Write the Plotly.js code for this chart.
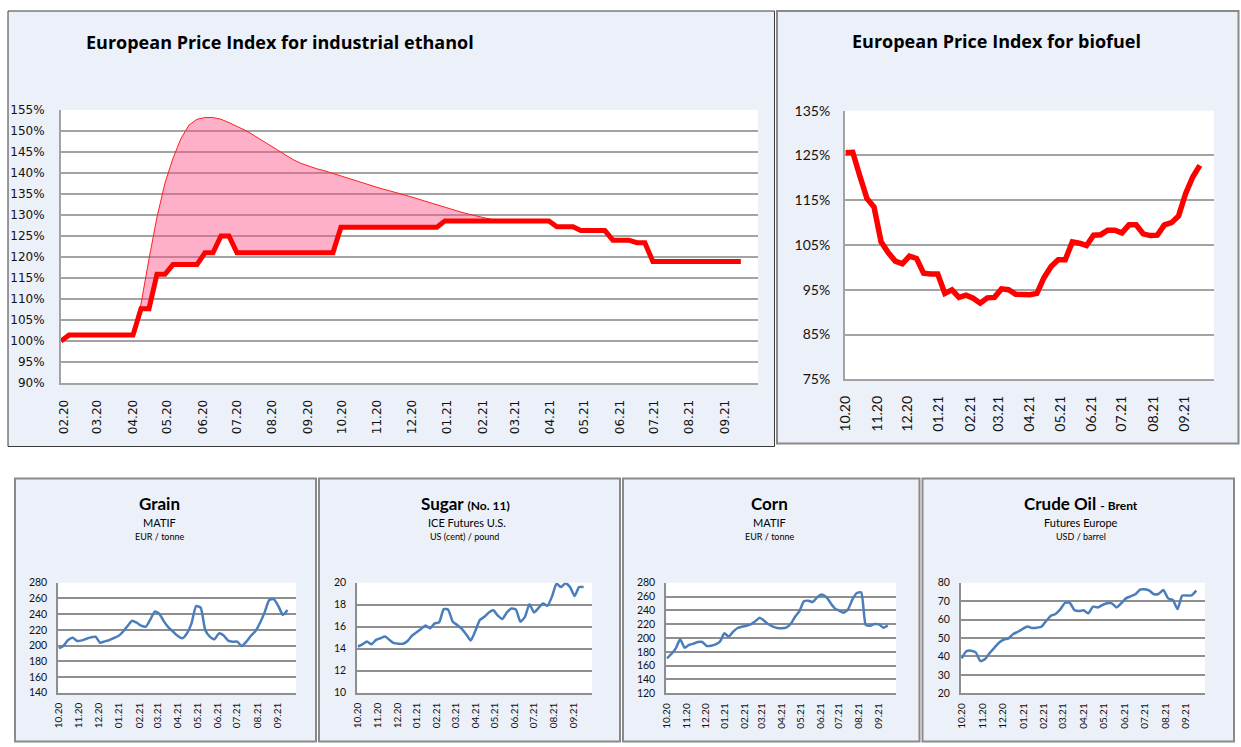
<!DOCTYPE html>
<html><head><meta charset="utf-8">
<script src="https://cdn.plot.ly/plotly-3.0.1.min.js"></script>
<style>html,body{margin:0;padding:0;background:#fff;}#chart{width:1241px;height:747px;}</style>
</head><body><div id="chart"></div>
<script>
// ---------------- DATA ----------------
// Weekly observations. Ethanol series starts end of Jan 2020, others start Oct 2020.
const ethanolStart = '2020-01-29';
const marketStart = '2020-10-01';

// European Price Index for industrial ethanol (%), weekly
const ethanolIndex = [100,
  101.4,101.4,101.4,101.4,101.4,101.4,101.4,101.4,101.4,
  107.7,107.7, 115.9,115.9, 118.2,118.2,118.2,118.2, 121.0,121.0, 125.0,125.0,
  121.0,121.0,121.0,121.0,121.0,121.0,121.0,121.0,121.0,121.0,121.0,121.0,121.0,
  127.1,127.1,127.1,127.1,127.1,127.1,127.1,127.1,127.1,127.1,127.1,127.1,127.1,
  128.6,128.6,128.6,128.6,128.6,128.6,128.6,128.6,128.6,128.6,128.6,128.6,128.6,128.6,
  127.2,127.2,127.2, 126.3,126.3,126.3,126.3, 124.0,124.0,124.0, 123.4,123.4,
  118.9,118.9,118.9,118.9,118.9,118.9,118.9,118.9,118.9,118.9,118.9,118.9];
// Upper envelope (pink band), from week 9 to week 55 of the ethanol series
const ethanolPeakFrom = 9;
const ethanolPeak = [101.4,108.8,119.5,129.5,137.6,143.5,148.2,151.4,152.8,153.2,
  153.2,152.8,152.0,151.1,150.2,149.1,147.9,146.6,145.4,144.2,
  143.2,142.3,141.6,141.0,140.5,139.9,139.3,138.7,138.0,137.4,
  136.8,136.3,135.8,135.3,134.8,134.2,133.6,133.0,132.4,131.8,
  131.2,130.7,130.2,129.7,129.3,128.9,128.6];

// European Price Index for biofuel (%), weekly from 10.20
const biofuelIndex = [125.6,125.7,120.4,115.4,113.5,105.7,103.3,101.4,100.8,102.5,
  102.0,98.7,98.5,98.5,94.2,95.0,93.3,93.8,93.1,92.0,
  93.2,93.3,95.2,95.0,94.0,93.8,93.9,94.2,97.7,100.2,
  101.7,101.7,105.7,105.4,104.9,107.2,107.3,108.3,108.3,107.7,
  109.5,109.5,107.5,107.1,107.2,109.5,110.0,111.5,116.5,120.2,122.8];

// Grain MATIF, EUR / tonne
const grainPrice = [196.4,199.8,207.0,210.0,205.8,206.6,208.7,210.4,211.3,203.6,
  205.3,207.0,209.6,212.1,217.6,224.9,231.6,229.1,225.3,224.0,
  233.3,243.5,240.1,230.4,222.7,217.6,212.1,209.2,215.5,228.2,
  250.3,248.2,219.8,211.3,207.9,215.5,213.0,206.2,204.9,204.9,
  199.4,204.9,212.5,218.5,229.1,242.2,257.9,259.2,250.3,238.9,245.2];

// Sugar No. 11, ICE Futures U.S., US cent / pound
const sugarPrice = [14.2,14.4,14.65,14.4,14.8,14.95,15.1,14.8,14.5,14.45,
  14.45,14.7,15.2,15.5,15.8,16.1,15.85,16.3,16.4,17.6,
  17.55,16.45,16.15,15.8,15.3,14.75,15.6,16.6,16.9,17.3,
  17.5,17.0,16.7,17.3,17.65,17.55,16.45,16.9,18.05,17.3,
  17.7,18.1,17.9,18.75,19.9,19.6,19.95,19.6,18.8,19.6,19.6];

// Corn MATIF, EUR / tonne
const cornPrice = [170.6,176.9,185.1,198.1,186.0,189.9,191.8,194.2,194.2,188.4,
  188.9,190.8,194.7,206.8,201.9,209.2,214.5,216.4,217.8,219.8,
  224.1,229.4,225.1,219.8,216.4,214.5,214.0,214.9,220.2,230.8,
  239.0,253.0,254.0,252.0,258.8,263.1,259.8,251.1,242.9,239.5,
  236.6,241.4,255.9,265.1,266.0,218.8,217.8,220.2,219.8,214.9,217.8];

// Crude Oil Brent, Futures Europe, USD / barrel
const crudePrice = [39.0,42.8,43.1,42.2,37.5,38.6,42.0,44.8,47.6,49.1,
  49.8,52.2,53.4,54.9,56.3,55.4,55.6,56.1,59.2,62.1,
  63.0,65.5,69.0,69.2,65.2,64.6,65.0,63.4,67.0,66.6,
  67.9,68.8,68.8,66.6,68.8,71.5,72.6,73.7,76.2,76.4,
  75.7,73.7,74.0,76.0,71.5,70.6,65.7,73.0,73.0,73.1,75.7];

// Texts
const titles = {
  ethanol: 'European Price Index for industrial ethanol',
  biofuel: 'European Price Index for biofuel',
  grain: ['<b>Grain</b>', 'MATIF', 'EUR / tonne'],
  sugar: ['<b>Sugar <span style="font-size:12px">(No. 11)</span></b>', 'ICE Futures U.S.', 'US (cent) / pound'],
  corn: ['<b>Corn</b>', 'MATIF', 'EUR / tonne'],
  crude: ['<b>Crude Oil <span style="font-size:12px">- Brent</span></b>', 'Futures Europe', 'USD / barrel']
};

// ---------------- HELPERS ----------------
function weekly(start, n) {
  const d0 = new Date(start + 'T00:00:00Z').getTime();
  const out = [];
  for (let i = 0; i < n; i++) out.push(new Date(d0 + i * 7 * 864e5).toISOString().slice(0, 10));
  return out;
}
const W = 1241, H = 747;
const PANEL = '#ECF0F8';
const ethX = weekly(ethanolStart, ethanolIndex.length);
const mktX = weekly(marketStart, biofuelIndex.length);
const peakX = ethX.slice(ethanolPeakFrom, ethanolPeakFrom + ethanolPeak.length);
const peakBase = ethanolIndex.slice(ethanolPeakFrom, ethanolPeakFrom + ethanolPeak.length);

function dateX(l, r, anchor, range, family, size, gap, lc) {
  return {domain: [l / W, r / W], anchor: anchor, type: 'date', range: range,
    tickformat: '%m.%y', dtick: 'M1', tick0: range[0].slice(0, 7) + '-01',
    tickangle: -90, tickfont: {family: family, size: size, color: '#111'},
    showgrid: false, zeroline: false, showline: true, linecolor: lc, linewidth: 2,
    ticks: 'outside', ticklen: gap, tickcolor: 'rgba(0,0,0,0)', fixedrange: true};
}
function valY(t, b, anchor, range, dtick, suffix, family, size, gap, gc) {
  return {domain: [1 - b / H, 1 - t / H], anchor: anchor, range: range, dtick: dtick, tick0: range[0],
    ticksuffix: suffix, showgrid: true, gridcolor: gc, gridwidth: 2, zeroline: false,
    showline: true, linecolor: gc, linewidth: 2, ticks: 'outside', ticklen: gap,
    tickcolor: 'rgba(0,0,0,0)', tickfont: {family: family, size: size, color: '#111'}, fixedrange: true};
}
function rect(x0, y0, x1, y1, fill, lineColor, lw) {
  return {type: 'rect', xref: 'paper', yref: 'paper', layer: 'below',
    x0: x0 / W, x1: x1 / W, y0: 1 - y1 / H, y1: 1 - y0 / H,
    fillcolor: fill, line: {color: lineColor || 'rgba(0,0,0,0)', width: lw || 0}};
}
function note(text, x, y, size, anchor, family) {
  return {xref: 'paper', yref: 'paper', x: x / W, y: 1 - y / H, text: text, showarrow: false,
    xanchor: anchor || 'center', yanchor: 'middle', font: {family: family || 'Lato', size: size, color: '#000'}};
}

// ---------------- TRACES ----------------
const blue = '#4A7EBB';
const traces = [
  {x: peakX, y: peakBase, xaxis: 'x', yaxis: 'y', mode: 'lines', line: {width: 0, color: 'rgba(0,0,0,0)'}, hoverinfo: 'skip'},
  {x: peakX, y: ethanolPeak, xaxis: 'x', yaxis: 'y', mode: 'lines', fill: 'tonexty',
   fillcolor: 'rgba(255,80,135,0.45)', line: {width: 1, color: '#FF2020'}},
  {x: ethX, y: ethanolIndex, xaxis: 'x', yaxis: 'y', mode: 'lines', line: {width: 5, color: '#FF0000'}},
  {x: mktX, y: biofuelIndex, xaxis: 'x2', yaxis: 'y2', mode: 'lines', line: {width: 5.5, color: '#FF0000'}},
  {x: mktX, y: grainPrice, xaxis: 'x3', yaxis: 'y3', mode: 'lines', line: {width: 2.5, color: blue, shape: 'spline', smoothing: 0.5}},
  {x: mktX, y: sugarPrice, xaxis: 'x4', yaxis: 'y4', mode: 'lines', line: {width: 2.5, color: blue, shape: 'spline', smoothing: 0.5}},
  {x: mktX, y: cornPrice, xaxis: 'x5', yaxis: 'y5', mode: 'lines', line: {width: 2.5, color: blue, shape: 'spline', smoothing: 0.5}},
  {x: mktX, y: crudePrice, xaxis: 'x6', yaxis: 'y6', mode: 'lines', line: {width: 2.5, color: blue, shape: 'spline', smoothing: 0.5}}
];

// ---------------- LAYOUT ----------------
const gT = '#A3A3A3', gB = '#8E8E8E';
const mktRange = ['2020-09-30', '2021-09-29'];
const layout = {
  width: W, height: H, autosize: false, showlegend: false,
  margin: {l: 0, r: 0, t: 0, b: 0, pad: 0},
  paper_bgcolor: PANEL, plot_bgcolor: '#FFFFFF',
  font: {family: 'Lato', color: '#000'},
  xaxis: dateX(61, 758, 'y', ['2020-01-29', '2021-09-30'], 'DejaVu Sans', 12, 10, gT),
  yaxis: valY(110, 383, 'x', [90, 155], 5, '%', 'DejaVu Sans', 12, 12, gT),
  xaxis2: dateX(845, 1214, 'y2', ['2020-09-30 08:00', '2021-09-30'], 'Lato', 14, 9, gT),
  yaxis2: valY(110.7, 379.3, 'x2', [75, 135], 10, '%', 'Lato', 14, 10, gT),
  xaxis3: dateX(58.3, 296, 'y3', mktRange, 'Lato', 10, 4, gB),
  yaxis3: valY(582.7, 692.7, 'x3', [140, 280], 20, '', 'Lato', 10.5, 7, gB),
  xaxis4: dateX(357.3, 592, 'y4', mktRange, 'Lato', 10, 4, gB),
  yaxis4: valY(582.7, 692.7, 'x4', [10, 20], 2, '', 'Lato', 10.5, 7, gB),
  xaxis5: dateX(666.3, 896, 'y5', mktRange, 'Lato', 10, 4, gB),
  yaxis5: valY(582.7, 693.3, 'x5', [120, 280], 20, '', 'Lato', 10.5, 7, gB),
  xaxis6: dateX(961, 1205, 'y6', mktRange, 'Lato', 10, 4, gB),
  yaxis6: valY(582.7, 693.3, 'x6', [20, 80], 10, '', 'Lato', 10.5, 7, gB),
  shapes: [
    // white page gaps between the panels
    rect(0, 0, W, 11, '#fff'), rect(0, 446.5, W, 478, '#fff'), rect(776, 443.5, W, 447, '#fff'),
    rect(0, 741.5, W, H, '#fff'), rect(0, 0, 8, 478, '#fff'), rect(774.5, 0, 776.5, 447, '#fff'),
    rect(1238.5, 0, W, 478, '#fff'), rect(0, 478, 14, H, '#fff'), rect(316, 478, 318.5, H, '#fff'),
    rect(620, 478, 622, H, '#fff'), rect(919.5, 478, 922, H, '#fff'), rect(1234, 478, W, H, '#fff'),
    // panel frames
    rect(8, 11, 774.5, 446.5, 'rgba(0,0,0,0)', '#3A3A3A', 1),
    rect(777, 11, 1238.5, 443.5, 'rgba(0,0,0,0)', '#8A8A8A', 2),
    rect(15, 478.5, 316, 741.5, 'rgba(0,0,0,0)', '#8A8A8A', 2),
    rect(319, 478.5, 620, 741.5, 'rgba(0,0,0,0)', '#8A8A8A', 2),
    rect(623, 478.5, 919.5, 741.5, 'rgba(0,0,0,0)', '#8A8A8A', 2),
    rect(922.5, 478.5, 1234, 741.5, 'rgba(0,0,0,0)', '#8A8A8A', 2)
  ],
  annotations: [
    note('<b>' + titles.ethanol + '</b>', 84, 41.5, 18, 'left', 'Open Sans'),
    note('<b>' + titles.biofuel + '</b>', 996, 40.5, 18, 'center', 'Open Sans'),
    note(titles.grain[0], 160, 503, 17), note(titles.grain[1], 160, 522, 11), note(titles.grain[2], 160, 536.3, 9),
    note(titles.sugar[0], 465, 503, 17), note(titles.sugar[1], 466.5, 522, 11), note(titles.sugar[2], 464, 536.3, 9),
    note(titles.corn[0], 769, 503, 17), note(titles.corn[1], 769, 522, 11), note(titles.corn[2], 769, 536.3, 9),
    note(titles.crude[0], 1081, 503, 17), note(titles.crude[1], 1081, 522, 11), note(titles.crude[2], 1081, 536.3, 9)
  ]
};

Plotly.newPlot('chart', traces, layout, {displayModeBar: false, staticPlot: true});
</script></body></html>
